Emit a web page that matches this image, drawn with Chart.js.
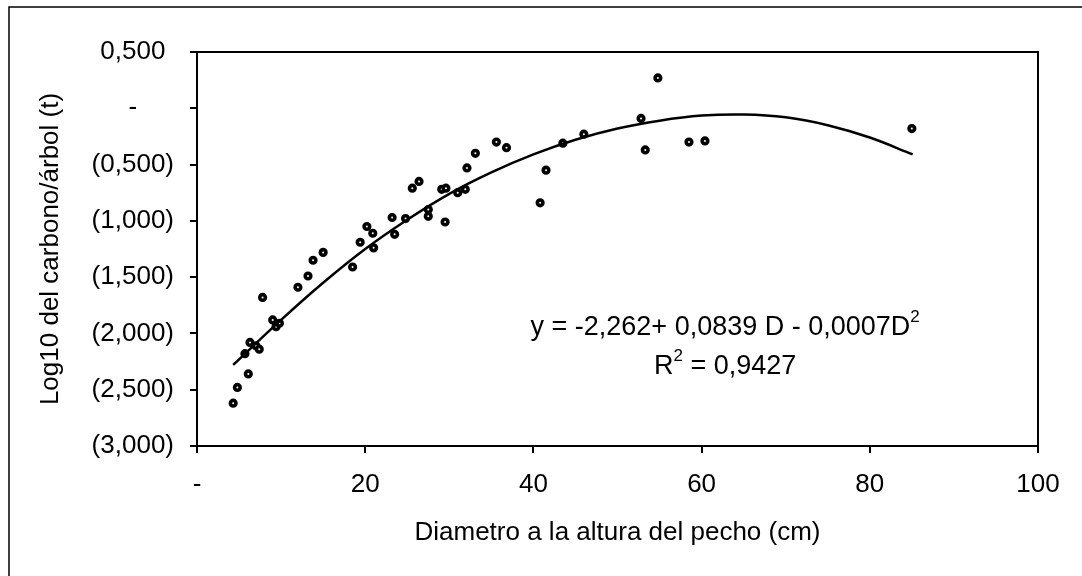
<!DOCTYPE html>
<html>
<head>
<meta charset="utf-8">
<script src="https://cdn.jsdelivr.net/npm/chart.js@4"></script>
<style>
  html, body { margin: 0; padding: 0; background: #fff; }
</style>
</head>
<body>
<canvas id="scatter" width="1082" height="576"></canvas>
<script>
// diámetro (cm) y log10 del carbono por árbol (t)
const diameters = [4.3, 4.8, 6.1, 5.7, 6.3, 7.0, 7.4, 7.8, 9.0, 9.4, 9.8, 12.0, 13.2, 13.8, 15.0,
  18.5, 19.4, 20.2, 20.9, 21.0, 23.2, 23.5, 24.8, 25.6, 26.4, 27.5, 27.5, 29.5, 29.1, 29.6,
  31.0, 31.9, 32.1, 33.1, 35.6, 36.8, 40.8, 41.5, 43.5, 46.0, 52.8, 54.8, 53.3, 58.5, 60.4, 85.0];
const carbonLog = [-2.62, -2.48, -2.36, -2.18, -2.08, -2.11, -2.14, -1.68, -1.88, -1.94, -1.91, -1.59, -1.49, -1.35, -1.28,
  -1.41, -1.19, -1.05, -1.11, -1.24, -0.97, -1.12, -0.98, -0.71, -0.65, -0.90, -0.96, -1.01, -0.72, -0.71,
  -0.75, -0.72, -0.53, -0.40, -0.30, -0.35, -0.84, -0.55, -0.31, -0.23, -0.09, 0.27, -0.37, -0.30, -0.29, -0.18];

// curva de tendencia
const trendDiameters = [4.3, 10, 15, 20, 25, 30, 35, 40, 45, 50, 55, 60, 65, 70, 75, 80, 85.1];
const trendLog = [-2.28, -1.88, -1.55, -1.25, -0.99, -0.76, -0.57, -0.41, -0.28, -0.18, -0.11, -0.065, -0.055, -0.08, -0.15, -0.26, -0.41];

const xTickValues = [0, 20, 40, 60, 80, 100];
const xTickLabels = ['-', '20', '40', '60', '80', '100'];
const yTickValues = [0.5, 0, -0.5, -1, -1.5, -2, -2.5, -3];
const yTickLabels = ['0,500', '-', '(0,500)', '(1,000)', '(1,500)', '(2,000)', '(2,500)', '(3,000)'];

const equationText = 'y = -2,262+ 0,0839 D - 0,0007D';
const r2Text = ' = 0,9427';

const FONT = '"Liberation Sans", Arial, sans-serif';

const labelFor = (values, labels) => (v) => {
  const i = values.findIndex(t => Math.abs(t - v) < 1e-6);
  return i >= 0 ? labels[i] : '';
};

const framePlugin = {
  id: 'frame',
  afterDraw(chart) {
    const { ctx, chartArea: a, scales } = chart;
    ctx.save();
    ctx.strokeStyle = '#000';
    ctx.lineWidth = 1.5;
    ctx.strokeRect(9, 7, 1120, 620);
    ctx.lineWidth = 2;
    ctx.strokeRect(a.left, a.top, a.right - a.left, a.bottom - a.top);

    // ecuación y R²
    const cx = scales.x.getPixelForValue(62.8);
    const y1 = scales.y.getPixelForValue(-1.95);
    const y2 = scales.y.getPixelForValue(-2.29);
    const big = '27px ' + FONT, small = '17px ' + FONT;
    ctx.fillStyle = '#000';
    ctx.textBaseline = 'middle';
    ctx.textAlign = 'left';

    ctx.font = big;
    const w1 = ctx.measureText(equationText).width;
    ctx.font = small;
    const s = ctx.measureText('2').width;
    let x = cx - (w1 + s) / 2;
    ctx.font = big;
    ctx.fillText(equationText, x, y1);
    ctx.font = small;
    ctx.fillText('2', x + w1, y1 - 10);

    ctx.font = big;
    const wr = ctx.measureText('R').width, we = ctx.measureText(r2Text).width;
    x = cx - (wr + s + we) / 2;
    ctx.fillText('R', x, y2);
    ctx.font = small;
    ctx.fillText('2', x + wr, y2 - 10);
    ctx.font = big;
    ctx.fillText(r2Text, x + wr + s, y2);
    ctx.restore();
  }
};

new Chart(document.getElementById('scatter'), {
  type: 'scatter',
  data: {
    datasets: [
      {
        label: 'Tendencia',
        data: trendDiameters.map((d, i) => ({ x: d, y: trendLog[i] })),
        showLine: true,
        borderColor: '#000',
        borderWidth: 2.5,
        pointRadius: 0,
        tension: 0.4
      },
      {
        label: 'Árboles',
        data: diameters.map((d, i) => ({ x: d, y: carbonLog[i] })),
        pointRadius: 2.8,
        borderWidth: 3.6,
        borderColor: '#000',
        backgroundColor: '#fff'
      }
    ]
  },
  options: {
    responsive: false,
    animation: false,
    layout: { padding: { top: 52, right: 44, left: 0, bottom: 0 } },
    plugins: { legend: { display: false }, tooltip: { enabled: false } },
    scales: {
      x: {
        type: 'linear',
        min: 0,
        max: 100,
        afterFit: (scale) => { scale.height = 130; },
        afterBuildTicks: (scale) => { scale.ticks = xTickValues.map(v => ({ value: v })); },
        grid: { drawOnChartArea: false, tickLength: 7, color: '#000', lineWidth: 2 },
        border: { color: '#000', width: 2 },
        ticks: {
          padding: 16,
          color: '#000',
          font: { family: FONT, size: 26 },
          maxRotation: 0,
          callback: labelFor(xTickValues, xTickLabels)
        },
        title: {
          display: true,
          text: 'Diametro a la altura del pecho (cm)',
          color: '#000',
          font: { family: FONT, size: 26 },
          padding: { top: 0, bottom: 28 }
        }
      },
      y: {
        type: 'linear',
        min: -3,
        max: 0.5,
        afterFit: (scale) => { scale.width = 197; },
        afterBuildTicks: (scale) => { scale.ticks = yTickValues.map(v => ({ value: v })); },
        grid: { drawOnChartArea: false, tickLength: 7, color: '#000', lineWidth: 2 },
        border: { color: '#000', width: 2 },
        ticks: {
          padding: 16,
          crossAlign: 'center',
          color: '#000',
          font: { family: FONT, size: 26 },
          callback: labelFor(yTickValues, yTickLabels)
        },
        title: {
          display: true,
          text: 'Log10 del carbono/árbol (t)',
          color: '#000',
          font: { family: FONT, size: 26 },
          padding: { top: 35, bottom: 0 }
        }
      }
    }
  },
  plugins: [framePlugin]
});
</script>
</body>
</html>
